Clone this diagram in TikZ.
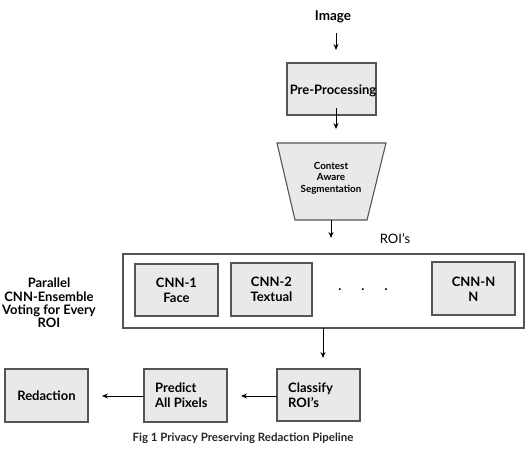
\documentclass[tikz,border=0pt]{standalone}
\usepackage{fontspec}
\setmainfont{Lato}
\usetikzlibrary{arrows.meta}
\definecolor{boxfill}{HTML}{E8EAEA}
\definecolor{boxline}{HTML}{555555}
\begin{document}
\begin{tikzpicture}[x=1pt,y=-1pt,
  procbox/.style={draw=boxline,line width=1.1pt,fill=boxfill},
  boxtext/.style={font=\fontsize{13}{15}\selectfont\bfseries,align=center,inner sep=0pt},
  arr/.style={-{Stealth[length=6pt,width=5pt]},line width=0.9pt,black}]
\useasboundingbox (0,0) rectangle (531,459);
% Image
\node[font=\fontsize{13.5}{16}\selectfont\bfseries,inner sep=0pt] (img) at (333,17) {Image};
\coordinate (imgA) at (336,33);
\coordinate (imgB) at (336,50);
\draw[arr] (imgA) -- (imgB);
% Pre-processing
\draw[procbox] (287,63) rectangle (376,115);
\node[boxtext] (pre) at (333,91) {Pre-Processing};
\coordinate (preA) at (336,108);
\coordinate (preB) at (336,129);
\draw[arr] (preA) -- (preB);
% Segmentation trapezoid
\draw[procbox] (277,143) -- (386,143) -- (367,220) -- (295,220) -- cycle;
\node[font=\fontsize{9.8}{11.5}\selectfont\bfseries,align=center,inner sep=0pt] (seg) at (331,178) {Contest\\Aware\\Segmentation};
\coordinate (segA) at (331,220);
\coordinate (segB) at (331,238);
\draw[arr] (segA) -- (segB);
\node[font=\fontsize{13}{15}\selectfont,inner sep=0pt] (rois) at (395,239) {ROI’s};
% Ensemble container
\draw[draw=boxline,line width=1.1pt] (123,254) rectangle (524,328);
\draw[procbox] (135,264) rectangle (218,316);
\node[boxtext] (cnn1) at (176.5,290) {CNN-1\\Face};
\draw[procbox] (231,263) rectangle (312,316);
\node[boxtext] (cnn2) at (271.5,289) {CNN-2\\Textual};
\draw[procbox] (432,262) rectangle (515,315);
\node[boxtext] (cnnN) at (473.5,289) {CNN-N\\N};
\node[font=\fontsize{13}{15}\selectfont\bfseries,inner sep=0pt] (dots) at (363,290) {.\hspace{20pt}.\hspace{20pt}.};
\node[font=\fontsize{13}{13.3}\selectfont\bfseries,align=center,inner sep=0pt] (lbl) at (49,303) {Parallel\\CNN-Ensemble\\Voting for Every\\ROI};
\coordinate (ensA) at (323,328);
\coordinate (ensB) at (323,358);
\draw[arr] (ensA) -- (ensB);
% Bottom row
\draw[procbox] (5,369) rectangle (88,422);
\node[boxtext] (red) at (46.5,395.5) {Redaction};
\draw[procbox] (144,369) rectangle (227,422);
\node[boxtext,align=left,anchor=west] (pred) at (155,395.5) {Predict\\All Pixels};
\draw[procbox] (277,369) rectangle (360,421);
\node[boxtext,align=left,anchor=west] (cls) at (288,395.5) {Classify\\ROI’s};
\coordinate (clsL) at (277,396);
\coordinate (predR) at (241,396);
\draw[arr] (clsL) -- (predR);
\coordinate (predL) at (144,396);
\coordinate (redR) at (102,396);
\draw[arr] (predL) -- (redR);
% Caption
\node[font=\fontsize{11.5}{13}\selectfont\bfseries,text=black!85,inner sep=0pt] (cap) at (243,438) {Fig 1 Privacy Preserving Redaction Pipeline};
\end{tikzpicture}
\end{document}
